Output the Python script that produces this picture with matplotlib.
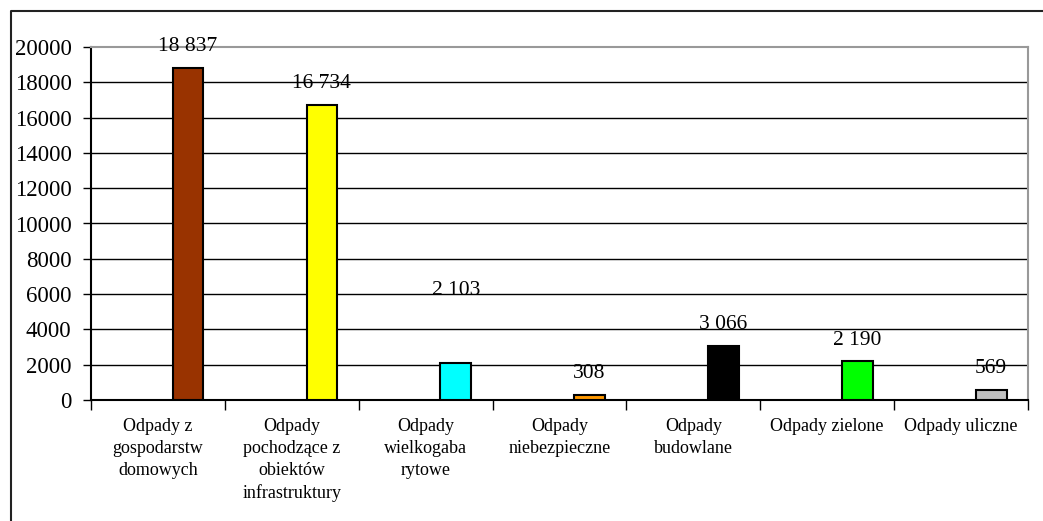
import matplotlib
matplotlib.use("Agg")
import matplotlib.pyplot as plt
from matplotlib.lines import Line2D

categories = [
    "Odpady z\ngospodarstw\ndomowych",
    "Odpady\npochodzące z\nobiektów\ninfrastruktury",
    "Odpady\nwielkogaba\nrytowe",
    "Odpady\nniebezpieczne",
    "Odpady\nbudowlane",
    "Odpady zielone",
    "Odpady uliczne",
]
values = [18837, 16734, 2103, 308, 3066, 2190, 569]
bar_colors = ["#993300", "#FFFF00", "#00FFFF", "#FF9900", "#000000", "#00FF00", "#C0C0C0"]
label_offsets = [12, 12, 49, 12, 12, 12, 12]  # points above bar top (baseline)
yticks = [0, 2000, 4000, 6000, 8000, 10000, 12000, 14000, 16000, 18000, 20000]

plt.rcParams["font.family"] = ["Liberation Serif", "DejaVu Serif"]

W, H = 1043, 521
fig = plt.figure(figsize=(W / 100, H / 100), dpi=100)
ax = fig.add_axes([91 / W, 1 - 400 / H, (1028 - 91) / W, (400 - 47) / H])

x = list(range(len(values)))
bx = [i + 0.225 for i in x]
ax.bar(bx, values, width=0.23, color=bar_colors, edgecolor="black", linewidth=1.5, zorder=3)

for xi, v, off in zip(bx, values, label_offsets):
    ax.annotate(f"{v:,}".replace(",", " "), (xi, v), xytext=(0, off), textcoords="offset points",
                ha="center", va="baseline", fontsize=15.5, zorder=4)

ax.set_xlim(-0.5, len(values) - 0.5)
ax.set_ylim(0, 20000)
ax.set_yticks(yticks)
ax.set_yticklabels([str(t) for t in yticks], fontsize=16.5)
ax.set_xticks([i - 0.5 for i in range(len(values) + 1)])
ax.set_xticklabels([])
ax.set_xticks(x, minor=True)
ax.set_xticklabels(categories, minor=True, fontsize=13, linespacing=1.38, va="top")
ax.tick_params(axis="x", which="minor", length=0, pad=13)
ax.tick_params(axis="x", which="major", length=7, width=1, direction="out", color="black")
ax.tick_params(axis="y", length=6, width=1, pad=8, color="black")

for t in yticks[1:-1]:
    ax.axhline(t, color="black", linewidth=1.0, zorder=1)

ax.spines["left"].set_color("black")
ax.spines["left"].set_linewidth(1.5)
ax.spines["bottom"].set_color("black")
ax.spines["bottom"].set_linewidth(1.5)
ax.spines["top"].set_color("#999999")
ax.spines["top"].set_linewidth(1.5)
ax.spines["right"].set_color("#999999")
ax.spines["right"].set_linewidth(1.5)

fx = 11 / W
fy = 1 - 11 / H
fig.add_artist(Line2D([fx, fx, 1.0], [0.0, fy, fy], transform=fig.transFigure,
                      color="#222222", linewidth=1.5))

fig.savefig("out.png", dpi=100)
